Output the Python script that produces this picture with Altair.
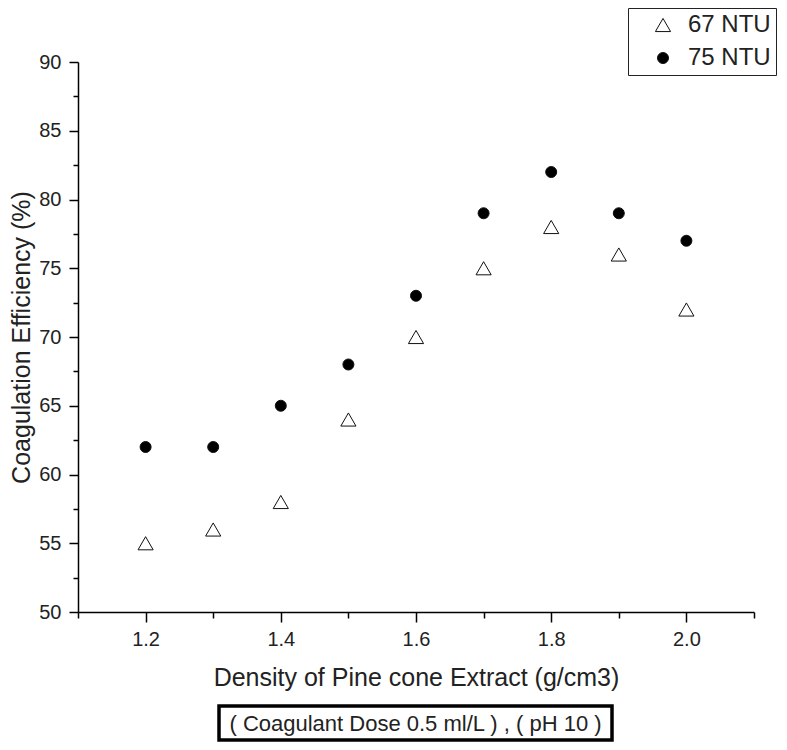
import altair as alt
import pandas as pd

# ---- data ----
density = [1.2, 1.3, 1.4, 1.5, 1.6, 1.7, 1.8, 1.9, 2.0]
eff_67 = [55, 56, 58, 64, 70, 75, 78, 76, 72]
eff_75 = [62, 62, 65, 68, 73, 79, 82, 79, 77]
series = ["67 NTU", "75 NTU"]
x_ticks = [1.1, 1.2, 1.3, 1.4, 1.5, 1.6, 1.7, 1.8, 1.9, 2.0, 2.1]
y_ticks = [50, 52.5, 55, 57.5, 60, 62.5, 65, 67.5, 70, 72.5, 75, 77.5, 80, 82.5, 85, 87.5, 90]
note = "( Coagulant Dose 0.5 ml/L ) , ( pH 10 )"
x_title = "Density of Pine cone Extract (g/cm3)"
y_title = "Coagulation Efficiency (%)"

rows = []
for d, v in zip(density, eff_67):
    rows.append({"density": d, "eff": v, "series": series[0]})
for d, v in zip(density, eff_75):
    rows.append({"density": d, "eff": v, "series": series[1]})
df = pd.DataFrame(rows)

FONT = "Liberation Sans"
TXT = "#222222"

legend = alt.Legend(
    title=None,
    orient="none",
    legendX=550,
    legendY=-54,
    padding=5,
    strokeColor="#222222",
    labelFont=FONT,
    labelFontSize=24,
    labelColor=TXT,
    symbolOffset=18,
    labelOffset=13,
    rowPadding=9,
    symbolStrokeColor="#111111",
    symbolStrokeWidth=1,
)

points = alt.Chart(df).mark_point(
    filled=True, opacity=1, strokeWidth=1
).encode(
    x=alt.X(
        "density:Q",
        scale=alt.Scale(domain=[1.1, 2.1], nice=False, zero=False),
        axis=alt.Axis(
            title=x_title,
            values=x_ticks,
            labelExpr="round(datum.value*10) % 2 == 0 ? format(datum.value, '.1f') : ''",
            tickSize={"condition": {"test": "round(datum.value*10) % 2 == 0", "value": 10}, "value": 6},
            labelPadding=7,
            titlePadding=16,
        ),
    ),
    y=alt.Y(
        "eff:Q",
        scale=alt.Scale(domain=[50, 90], nice=False, zero=False),
        axis=alt.Axis(
            title=y_title,
            values=y_ticks,
            labelExpr="datum.value % 5 == 0 ? format(datum.value, 'd') : ''",
            tickSize={"condition": {"test": "datum.value % 5 == 0", "value": 9}, "value": 5},
            labelPadding=8,
            titlePadding=4,
        ),
    ),
    shape=alt.Shape("series:N", scale=alt.Scale(domain=series, range=["triangle-up", "circle"]), legend=legend),
    fill=alt.Fill("series:N", scale=alt.Scale(domain=series, range=["white", "black"]), legend=legend),
    stroke=alt.Stroke("series:N", scale=alt.Scale(domain=series, range=["#111111", "#111111"]), legend=legend),
    size=alt.Size("series:N", scale=alt.Scale(domain=series, range=[230, 121]), legend=legend),
)

note_data = alt.Data(values=[{"t": note}])
box = alt.Chart(note_data).mark_rect(
    fillOpacity=0, stroke="black", strokeWidth=3.5
).encode(
    x=alt.value(141), x2=alt.value(534), y=alt.value(644), y2=alt.value(678)
)
note_text = alt.Chart(note_data).mark_text(
    font=FONT, fontSize=22, color=TXT, baseline="middle", align="center"
).encode(text="t:N", x=alt.value(337.5), y=alt.value(662))

chart = alt.layer(points, box, note_text).properties(
    width=676,
    height=550,
    autosize=alt.AutoSizeParams(type="none"),
    padding={"left": 70, "top": 54, "right": 25, "bottom": 130},
).configure_view(stroke=None).configure_axis(
    grid=False,
    domainColor="black",
    domainWidth=1.5,
    tickColor="black",
    tickWidth=1.5,
    labelFont=FONT,
    labelFontSize=20,
    labelColor=TXT,
    titleFont=FONT,
    titleFontSize=25,
    titleFontWeight="normal",
    titleColor=TXT,
)

chart.save("out.html", embed_options={"renderer": "svg", "actions": False})
